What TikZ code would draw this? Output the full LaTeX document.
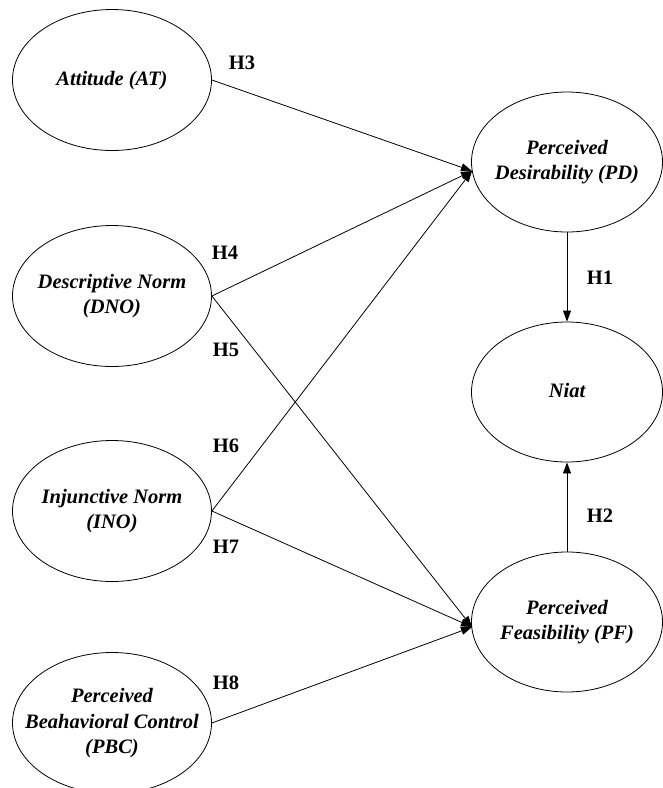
\documentclass[tikz,border=0pt]{standalone}
\usepackage{fontspec}
\setmainfont{Liberation Serif}
\usetikzlibrary{shapes.geometric,arrows.meta,calc}
\newcommand{\constructtext}[1]{\makebox[0pt]{\begin{tabular}{@{}c@{}}#1\end{tabular}}}
\begin{document}
\begin{tikzpicture}[x=1pt,y=-1pt,
  construct/.style={draw,line width=0.8pt,ellipse,inner sep=0pt,
    font=\fontsize{20.5}{25.5}\selectfont\bfseries\itshape},
  leftc/.style={construct,minimum width=199pt,minimum height=141pt},
  rightc/.style={construct,minimum width=191pt,minimum height=140pt},
  hlabel/.style={font=\fontsize{20.5}{24}\selectfont\bfseries,inner sep=0pt},
  path/.style={draw,line width=0.8pt,-{Triangle[length=11pt,width=8pt]}}]
\useasboundingbox (0,0) rectangle (663,788);
\node[leftc] (AT) at (112,80) {\constructtext{Attitude (AT)}};
\node[leftc] (DNO) at (112,296) {\constructtext{Descriptive Norm\\(DNO)}};
\node[leftc] (INO) at (112,511) {\constructtext{Injunctive Norm\\(INO)}};
\node[leftc] (PBC) at (112,723) {\constructtext{Perceived\\Beahavioral Control\\(PBC)}};
\node[rightc] (PD) at (567,162) {\constructtext{Perceived\\Desirability (PD)}};
\node[rightc] (Niat) at (567,392) {\constructtext{Niat}};
\node[rightc] (PF) at (567,622) {\constructtext{Perceived\\Feasibility (PF)}};
\coordinate (pdin) at ($(PD.center)+(-95,9)$);
\coordinate (pfin) at ($(PF.center)+(-95,5)$);
\draw[path] (AT.east) -- (pdin);
\draw[path] (DNO.east) -- (pdin);
\draw[path] (INO.east) -- (pdin);
\draw[path] (DNO.east) -- (pfin);
\draw[path] (INO.east) -- (pfin);
\draw[path] (PBC.east) -- (pfin);
\draw[path] (PD.south) -- (Niat.north);
\draw[path] (PF.north) -- (Niat.south);
\node[hlabel] (h3) at (242,63) {H3};
\node[hlabel] (h4) at (225,253) {H4};
\node[hlabel] (h1) at (600,278) {H1};
\node[hlabel] (h5) at (226,350) {H5};
\node[hlabel] (h6) at (226,446) {H6};
\node[hlabel] (h7) at (226,547) {H7};
\node[hlabel] (h2) at (600,516) {H2};
\node[hlabel] (h8) at (226,683) {H8};
\end{tikzpicture}
\end{document}
